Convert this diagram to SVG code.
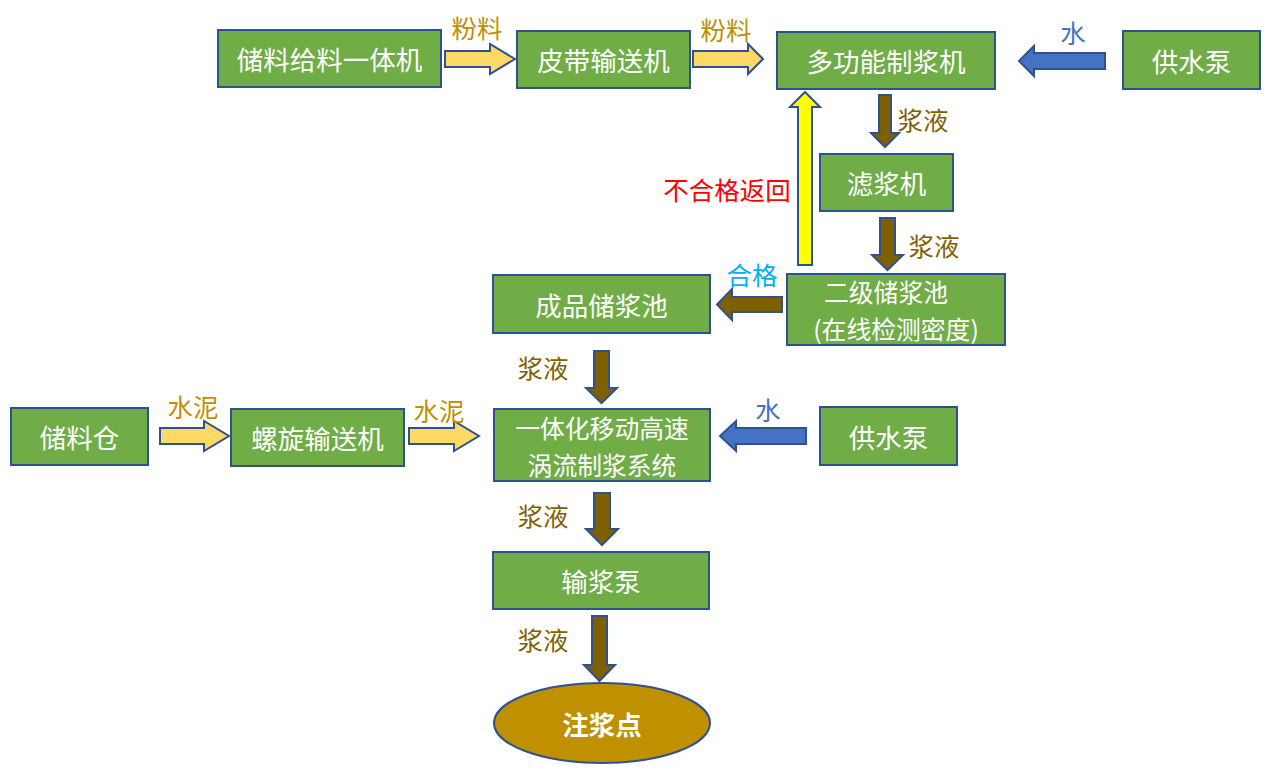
<svg xmlns="http://www.w3.org/2000/svg" width="1268" height="772" viewBox="0 0 1268 772">
<style>
.box{fill:#70AD47;stroke:#2F528F;stroke-width:2}
.nt{font-family:"Noto Sans CJK SC","Noto Sans",sans-serif;font-size:26.5px;fill:#FFFFFF;text-anchor:middle;dominant-baseline:central}
.n2l{font-size:24.8px}
.lb{font-family:"Noto Sans CJK SC","Noto Sans",sans-serif;font-size:25.5px;text-anchor:middle;dominant-baseline:central}
.gold{fill:#BF9000}
.brn{fill:#7F6000}
.wat{fill:#4472C4}
.ya{fill:#FFD966;stroke:#2F528F;stroke-width:2}
.ba{fill:#4472C4;stroke:#2F528F;stroke-width:2}
.da{fill:#7F6000;stroke:#2F528F;stroke-width:2}
.ua{fill:#FFFF00;stroke:#2F528F;stroke-width:2}
</style>
<rect width="1268" height="772" fill="#FFFFFF"/>
<g id="connectors">
<polygon class="ya" points="445,51 490,51 490,44 515,59 490,74 490,67 445,67"/>
<polygon class="ya" points="693,51 748,51 748,44 763,59 748,74 748,67 693,67"/>
<polygon class="ba" points="1105,53 1034,53 1034,46 1019,61 1034,76 1034,69 1105,69"/>
<polygon class="da" points="879,95 891,95 891,133 899,133 885,147 871,133 879,133"/>
<polygon class="da" points="880,218 895,218 895,255 903,255 887.5,270 872,255 880,255"/>
<polygon class="ua" points="798,265 812,265 812,107 820,107 805,92 790,107 798,107"/>
<polygon class="da" points="782,297 732,297 732,289 717,304.5 732,320 732,312 782,312"/>
<polygon class="da" points="594,351 609,351 609,388 617,388 601.5,403 586,388 594,388"/>
<polygon class="ya" points="160,428 204,428 204,421 229,436 204,451 204,444 160,444"/>
<polygon class="ya" points="409,428 454,428 454,421 479,436 454,451 454,444 409,444"/>
<polygon class="ba" points="806,428 736,428 736,421 720,436 736,451 736,444 806,444"/>
<polygon class="da" points="594,493 610,493 610,529 618,529 602,545 586,529 594,529"/>
<polygon class="da" points="592,616 607,616 607,665 615,665 599.5,681 584,665 592,665"/>
<text class="lb gold" x="477" y="26">粉料</text>
<text class="lb gold" x="726" y="28">粉料</text>
<text class="lb wat" x="1073" y="31">水</text>
<text class="lb brn" x="923" y="118">浆液</text>
<text class="lb brn" x="934" y="244">浆液</text>
<text class="lb" fill="#FF0000" x="727" y="188">不合格返回</text>
<text class="lb" fill="#00B0F0" x="752" y="273">合格</text>
<text class="lb brn" x="543" y="366">浆液</text>
<text class="lb gold" x="193" y="405">水泥</text>
<text class="lb gold" x="439" y="409">水泥</text>
<text class="lb wat" x="768" y="408">水</text>
<text class="lb brn" x="543" y="514">浆液</text>
<text class="lb brn" x="543" y="638">浆液</text>
</g>
<g id="n1"><rect class="box" x="218" y="30" width="223" height="57"/><text class="nt" x="329.5" y="58.5">储料给料一体机</text></g>
<g id="n2"><rect class="box" x="517" y="31" width="173" height="57"/><text class="nt" x="603.5" y="59.5">皮带输送机</text></g>
<g id="n3"><rect class="box" x="777" y="32" width="218" height="57"/><text class="nt" x="886" y="60.5">多功能制浆机</text></g>
<g id="n4"><rect class="box" x="1123" y="31" width="137" height="58"/><text class="nt" x="1191.5" y="60">供水泵</text></g>
<g id="n5"><rect class="box" x="820" y="154" width="133" height="57"/><text class="nt" x="886.5" y="182.5">滤浆机</text></g>
<g id="n6"><rect class="box" x="787" y="274" width="218" height="71"/><text class="nt n2l" x="886" y="291">二级储浆池</text><text class="nt n2l" x="896" y="327.5">(在线检测密度)</text></g>
<g id="n7"><rect class="box" x="493" y="275" width="217" height="58"/><text class="nt" x="601.5" y="304">成品储浆池</text></g>
<g id="n8"><rect class="box" x="11" y="408" width="137" height="57"/><text class="nt" x="79.5" y="436.5">储料仓</text></g>
<g id="n9"><rect class="box" x="231" y="409" width="173" height="57"/><text class="nt" x="317.5" y="437.5">螺旋输送机</text></g>
<g id="n10"><rect class="box" x="494" y="409" width="216" height="72"/><text class="nt n2l" x="602" y="427">一体化移动高速</text><text class="nt n2l" x="602" y="463.5">涡流制浆系统</text></g>
<g id="n11"><rect class="box" x="820" y="407" width="137" height="58"/><text class="nt" x="888.5" y="436">供水泵</text></g>
<g id="n12"><rect class="box" x="493" y="552" width="216" height="57"/><text class="nt" x="601" y="580.5">输浆泵</text></g>
<g id="n13"><ellipse cx="602" cy="723" rx="108" ry="40" fill="#BF9000" stroke="#2F528F" stroke-width="2"/><text class="nt" x="602" y="723" font-weight="bold" font-size="30px">注浆点</text></g>
</svg>
